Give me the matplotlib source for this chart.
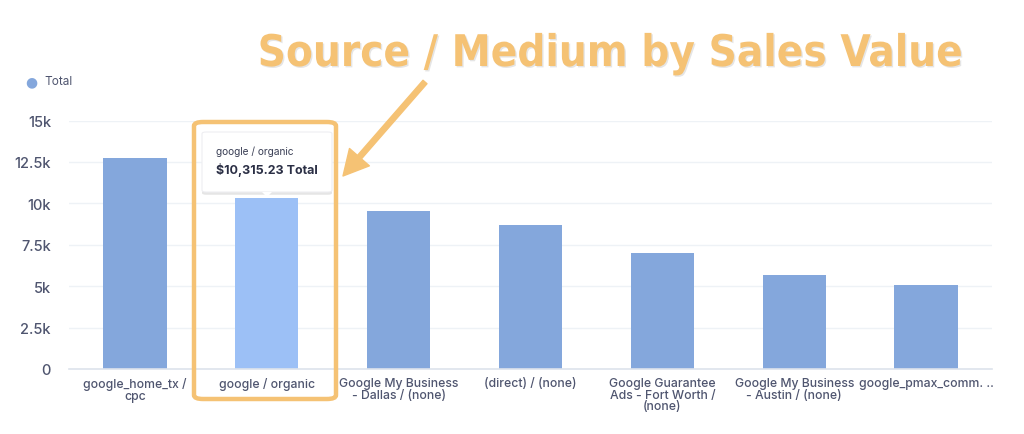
import matplotlib
matplotlib.use("Agg")
import matplotlib.pyplot as plt
from matplotlib.patches import FancyBboxPatch
import matplotlib.patheffects as pe
from matplotlib import font_manager

# data
categories = ["google_home_tx /\ncpc", "google / organic", "Google My Business\n- Dallas / (none)",
              "(direct) / (none)", "Google Guarantee\nAds - Fort Worth /\n(none)",
              "Google My Business\n- Austin / (none)", "google_pmax_comm. .."]
totals = [12720, 10315.23, 9550, 8700, 7000, 5650, 5050]
highlight = 1
yticks = [0, 2500, 5000, 7500, 10000, 12500, 15000]
ytick_labels = ["0", "2.5k", "5k", "7.5k", "10k", "12.5k", "15k"]

bar_color = "#84A7DC"
hi_color = "#9CC0F6"
text_color = "#4F556F"
orange = "#F5C274"

names = {f.name for f in font_manager.fontManager.ttflist}
base_font = "Inter" if "Inter" in names else "DejaVu Sans"

# look for a condensed bold face for the big title
title_fp = None
for f in font_manager.fontManager.ttflist:
    narrow = ("Narrow" in f.name or "Condensed" in f.name or "condensed" in str(f.stretch))
    if narrow and f.weight in ("bold", 700, "heavy", 800):
        title_fp = font_manager.FontProperties(fname=f.fname)
        break
if title_fp is None:
    title_fp = font_manager.FontProperties(family="Liberation Sans", weight="bold")

W, H = 1024, 435
fig = plt.figure(figsize=(W / 100, H / 100), dpi=100)
ax = fig.add_axes([69 / W, 1 - 370 / H, (992 - 69) / W, (370 - 121.5) / H])

x = list(range(len(categories)))
colors = [hi_color if i == highlight else bar_color for i in x]
ax.bar(x, totals, width=0.48, color=colors, zorder=2)
ax.set_xlim(-0.5, len(categories) - 0.5)
ax.set_ylim(0, 15000)
ax.set_yticks(yticks)
ax.set_yticklabels(ytick_labels)
ax.set_xticks(x)
ax.set_xticklabels(categories, linespacing=0.95)
ax.tick_params(axis="both", length=0, labelcolor=text_color)
ax.tick_params(axis="y", pad=13, labelsize=10.5)
ax.tick_params(axis="x", pad=6, labelsize=8.8)
for lab in ax.get_xticklabels() + ax.get_yticklabels():
    lab.set_fontfamily(base_font)
    lab.set_fontweight("medium")
ax.grid(axis="y", color="#EEF2F6", linewidth=1, zorder=0)
for s in ["top", "right", "left"]:
    ax.spines[s].set_visible(False)
ax.spines["bottom"].set_color("#DDE3EC")
ax.spines["bottom"].set_linewidth(1.2)

# legend
fig.text(31 / W, 1 - 82 / H, "\u25CF", color=bar_color, fontsize=10, ha="center", va="center",
         family="DejaVu Sans")
fig.text(44 / W, 1 - 82 / H, "Total", color=text_color, fontsize=8.5, ha="left", va="center",
         family=base_font)

# tooltip
tip = FancyBboxPatch((202 / W, 1 - 193 / H), 130 / W, 60 / H, boxstyle="round,pad=0,rounding_size=0.004",
                     transform=fig.transFigure, facecolor="white", edgecolor="#EEEEF2", linewidth=0.8,
                     path_effects=[pe.SimplePatchShadow(offset=(0, -2), shadow_rgbFace="#000000", alpha=0.1),
                                   pe.Normal()], zorder=5)
fig.add_artist(tip)
fig.text(216 / W, 1 - 152 / H, "google / organic", color="#3A3F55", fontsize=7.3, ha="left", va="center",
         family=base_font, zorder=6)
fig.text(216 / W, 1 - 170 / H, "$10,315.23 Total", color="#2B2F45", fontsize=9, fontweight="bold",
         ha="left", va="center", family=base_font, zorder=6)
fig.patches.append(plt.Polygon([[262 / W, 1 - 193 / H], [272 / W, 1 - 193 / H], [267 / W, 1 - 198 / H]],
                               closed=True, transform=fig.transFigure, facecolor="white", edgecolor="none",
                               zorder=6))

# orange highlight box
box = FancyBboxPatch((194 / W, 1 - 400 / H), 142 / W, 277 / H, boxstyle="round,pad=0,rounding_size=0.009",
                     transform=fig.transFigure, facecolor="none", edgecolor=orange, linewidth=3.2, zorder=7)
fig.add_artist(box)

# arrow from the title down to the tooltip
ax.annotate("", xy=(343, H - 177), xytext=(425, H - 83), xycoords="figure pixels",
            textcoords="figure pixels", annotation_clip=False, zorder=7,
            arrowprops=dict(arrowstyle="simple,head_width=1.9,head_length=1.8,tail_width=0.38",
                            mutation_scale=10, color=orange, shrinkA=0, shrinkB=0))

# title, fitted to the width it has in the reference
title = fig.text(610 / W, 1 - 67 / H, "Source / Medium by Sales Value", color=orange,
                 fontproperties=title_fp, ha="center", va="baseline",
                 path_effects=[pe.withSimplePatchShadow(offset=(1, -1), shadow_rgbFace="#999999", alpha=0.25)])
title.set_fontsize(35)
r = fig.canvas.get_renderer()
bb = title.get_window_extent(r)
title.set_fontsize(35 * 705 / bb.width)

fig.savefig("out.png", dpi=100, facecolor="white")
